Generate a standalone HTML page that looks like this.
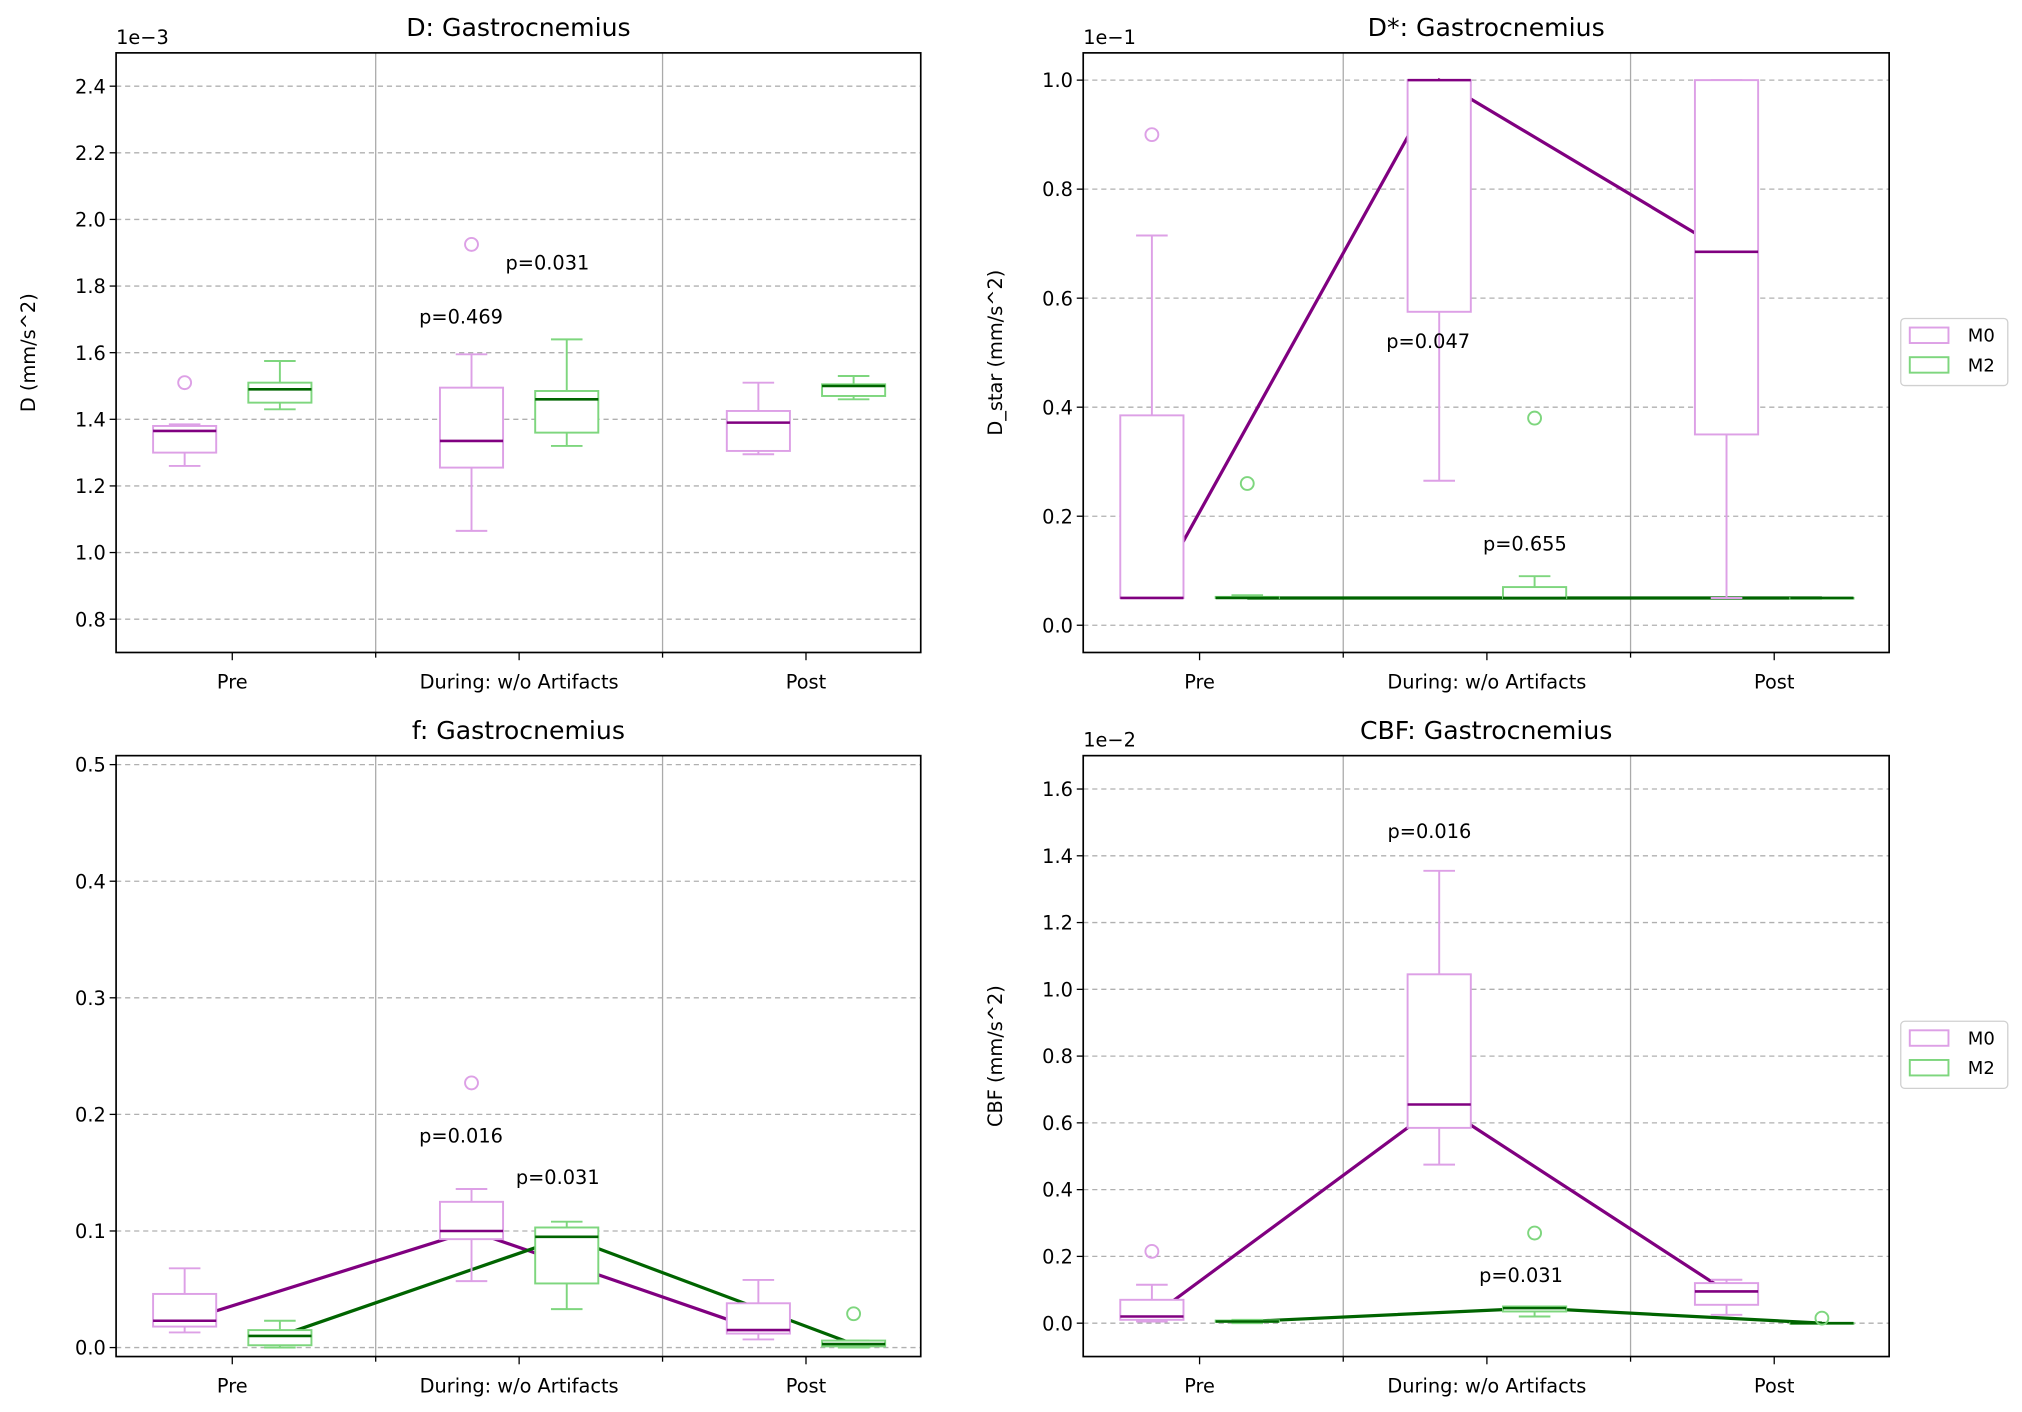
<!DOCTYPE html>
<html><head><meta charset="utf-8"><style>
html,body{margin:0;padding:0;background:#fff;}
svg{display:block;font-family:"DejaVu Sans","Liberation Sans",sans-serif;}
</style></head><body>
<svg id="fig" width="2022" height="1412" viewBox="0 0 1568 1095" xmlns="http://www.w3.org/2000/svg"></svg>
<script>
const categories = ["Pre", "During: w/o Artifacts", "Post"];
// box stats: [low, q1, median, q3, high]
const dM0 = [[1.26,1.30,1.365,1.38,1.385],[1.065,1.255,1.335,1.495,1.595],[1.295,1.305,1.39,1.425,1.51]];
const dM2 = [[1.43,1.45,1.49,1.51,1.575],[1.32,1.36,1.46,1.485,1.64],[1.46,1.47,1.50,1.505,1.53]];
const dOutM0 = [[1.51],[1.925],[]];
const dOutM2 = [[],[],[]];
const dsM0 = [[0.05,0.05,0.05,0.385,0.715],[0.265,0.575,1.0,1.0,1.0],[0.05,0.35,0.685,1.0,1.0]];
const dsM2 = [[0.05,0.05,0.05,0.052,0.055],[0.05,0.05,0.05,0.07,0.09],[0.05,0.05,0.05,0.05,0.05]];
const dsOutM0 = [[0.9],[],[]];
const dsOutM2 = [[0.26],[0.38],[]];
const dsLineM0 = [0.05,1.0,0.685];
const dsLineM2 = [0.05,0.05,0.05];
const fM0 = [[0.013,0.018,0.023,0.046,0.068],[0.057,0.093,0.10,0.125,0.136],[0.007,0.012,0.015,0.038,0.058]];
const fM2 = [[0.0,0.002,0.01,0.015,0.023],[0.033,0.055,0.095,0.103,0.108],[0.0,0.001,0.003,0.006,0.006]];
const fOutM0 = [[],[0.227],[]];
const fOutM2 = [[],[],[0.029]];
const fLineM0 = [0.023,0.10,0.015];
const fLineM2 = [0.01,0.095,0.003];
const cM0 = [[0.005,0.01,0.02,0.07,0.115],[0.475,0.585,0.655,1.045,1.355],[0.025,0.055,0.095,0.12,0.13]];
const cM2 = [[0.0,0.004,0.005,0.008,0.01],[0.02,0.035,0.045,0.05,0.05],[0.0,0.0,0.0,0.0,0.0]];
const cOutM0 = [[0.215],[],[]];
const cOutM2 = [[],[0.27],[0.015]];
const cLineM0 = [0.02,0.655,0.095];
const cLineM2 = [0.005,0.045,0.0];
const dTicks = ["0.8","1.0","1.2","1.4","1.6","1.8","2.0","2.2","2.4"];
const dsTicks = ["0.0","0.2","0.4","0.6","0.8","1.0"];
const fTicks = ["0.0","0.1","0.2","0.3","0.4","0.5"];
const cTicks = ["0.0","0.2","0.4","0.6","0.8","1.0","1.2","1.4","1.6"];

const NS="http://www.w3.org/2000/svg";
const svg=document.getElementById('fig');
function mk(tag,attrs,parent,text){const e=document.createElementNS(NS,tag);for(const k in attrs)e.setAttribute(k,attrs[k]);if(text!==undefined)e.textContent=text;(parent||svg).appendChild(e);return e;}
const M0C="#dda0e6",M2C="#7ed67e",M0D="#800080",M2D="#006400";

function panel(o){
  const g=mk('g',{});
  
  
  const L=o.x0,R=o.x1,T=o.y0,B=o.y1;
  const sy=v=>B-(v-o.ymin)/(o.ymax-o.ymin)*(B-T);
  const catW=(R-L)/2.805, cx0=L+0.405*catW;
  const sx=i=>cx0+i*catW;
  o.ticks.forEach(t=>{const y=sy(parseFloat(t));
    const gl=mk('line',{x1:L,x2:R,y1:y,y2:y,stroke:"#b0b0b0","stroke-width":1,"stroke-dasharray":"4,3"},g);
    
    
    mk('line',{x1:L-5,x2:L,y1:y,y2:y,stroke:"#000","stroke-width":1},g);
    const tl=mk('text',{x:L-8,y:y+5.5,"text-anchor":"end","font-size":15,fill:"#000"},g,t);
    
    
  });
  [0.5,1.5].forEach(s=>{const x=sx(s);
    mk('line',{x1:x,x2:x,y1:T,y2:B,stroke:"#aaaaaa","stroke-width":1},g);
    mk('line',{x1:x,x2:x,y1:B,y2:B+4,stroke:"#000","stroke-width":1},g);});
  categories.forEach((c,i)=>{const x=sx(i);
    mk('line',{x1:x,x2:x,y1:B,y2:B+6,stroke:"#000","stroke-width":1},g);
    const tl=mk('text',{x:x,y:B+28,"text-anchor":"middle","font-size":15,fill:"#000"},g,c);
    
    
  });
  const off=0.166*catW, hw=0.11*catW;
  [[o.lineM0,M0D,-off,'m0-median-line'],[o.lineM2,M2D,off,'m2-median-line']].forEach(([arr,col,dx,nm])=>{
    if(!arr)return;
    const pts=arr.map((v,i)=>(sx(i)+dx)+","+sy(v)).join(" ");
    const pl=mk('polyline',{points:pts,fill:"none",stroke:col,"stroke-width":2.5},g);
    
    
  });
  [[o.m0,o.outM0,M0C,M0D,-off,'m0'],[o.m2,o.outM2,M2C,M2D,off,'m2']].forEach(([arr,outs,col,dcol,dx,nm])=>{
    arr.forEach((s,i)=>{
      const cx=sx(i)+dx;
      const bg=mk('g',{},g);
      
      
      const cw=hw/2;
      mk('line',{x1:cx,x2:cx,y1:sy(s[0]),y2:sy(s[1]),stroke:col,"stroke-width":1.5},bg);
      mk('line',{x1:cx,x2:cx,y1:sy(s[3]),y2:sy(s[4]),stroke:col,"stroke-width":1.5},bg);
      mk('line',{x1:cx-cw,x2:cx+cw,y1:sy(s[0]),y2:sy(s[0]),stroke:col,"stroke-width":1.5},bg);
      mk('line',{x1:cx-cw,x2:cx+cw,y1:sy(s[4]),y2:sy(s[4]),stroke:col,"stroke-width":1.5},bg);
      mk('rect',{x:cx-hw,y:sy(s[3]),width:2*hw,height:Math.max(0.5,sy(s[1])-sy(s[3])),fill:"#fff",stroke:col,"stroke-width":1.5},bg);
      mk('line',{x1:cx-hw,x2:cx+hw,y1:sy(s[2]),y2:sy(s[2]),stroke:dcol,"stroke-width":2},bg);
      (outs[i]||[]).forEach(v=>{
        const c=mk('circle',{cx:cx,cy:sy(v),r:5,fill:"none",stroke:col,"stroke-width":1.5},bg);
        
        
      });
    });
  });
  mk('rect',{x:L,y:T,width:R-L,height:B-T,fill:"none",stroke:"#000","stroke-width":1.3},g);
  o.ann.forEach(a=>{const t=mk('text',{x:a[0],y:a[1],"font-size":15,fill:"#000"},g,a[2]);
    
    });
  const tt=mk('text',{x:(L+R)/2,y:T-13,"text-anchor":"middle","font-size":19.5,fill:"#000"},g,o.title);
  
  
  if(o.offset){const t=mk('text',{x:L,y:T-7,"font-size":15,fill:"#000"},g,o.offset);
    
    }
  if(o.ylabel){const t=mk('text',{x:0,y:0,transform:`translate(${L-63},${(T+B)/2}) rotate(-90)`,"text-anchor":"middle","font-size":15,fill:"#000"},g,o.ylabel);
    
    }
  if(o.legend){const lx=1474,ly=o.legendY;
    const lg=mk('g',{},g);
    
    
    mk('rect',{x:lx,y:ly,width:83,height:52,rx:3,fill:"#fff",stroke:"#d0d0d0","stroke-width":1},lg);
    [["M0",M0C],["M2",M2C]].forEach(([n,c],k)=>{
      const e=mk('g',{},lg);
      
      
      mk('rect',{x:lx+7,y:ly+7+k*23,width:30,height:12,fill:"none",stroke:c,"stroke-width":1.5},e);
      mk('text',{x:lx+52,y:ly+18+k*23,"font-size":14,fill:"#000"},e,n);
    });
  }
}
panel({name:'d-panel',x0:90,x1:714,y0:41,y1:506,ymin:0.7,ymax:2.5,ticks:dTicks,m0:dM0,m2:dM2,outM0:dOutM0,outM2:dOutM2,
  ann:[[325,251,"p=0.469"],[392,209,"p=0.031"]],title:"D: Gastrocnemius",offset:"1e\u22123",ylabel:"D (mm/s^2)"});
panel({name:'dstar-panel',x0:840,x1:1465,y0:41,y1:506,ymin:-0.05,ymax:1.05,ticks:dsTicks,m0:dsM0,m2:dsM2,outM0:dsOutM0,outM2:dsOutM2,
  lineM0:dsLineM0,lineM2:dsLineM2,ann:[[1075,270,"p=0.047"],[1150,427,"p=0.655"]],title:"D*: Gastrocnemius",offset:"1e\u22121",ylabel:"D_star (mm/s^2)",legend:true,legendY:247});
panel({name:'f-panel',x0:90,x1:714,y0:586,y1:1052,ymin:-0.0077,ymax:0.5077,ticks:fTicks,m0:fM0,m2:fM2,outM0:fOutM0,outM2:fOutM2,
  lineM0:fLineM0,lineM2:fLineM2,ann:[[325,886,"p=0.016"],[400,918,"p=0.031"]],title:"f: Gastrocnemius"});
panel({name:'cbf-panel',x0:840,x1:1465,y0:586,y1:1052,ymin:-0.10,ymax:1.70,ticks:cTicks,m0:cM0,m2:cM2,outM0:cOutM0,outM2:cOutM2,
  lineM0:cLineM0,lineM2:cLineM2,ann:[[1076,650,"p=0.016"],[1147,994,"p=0.031"]],title:"CBF: Gastrocnemius",offset:"1e\u22122",ylabel:"CBF (mm/s^2)",legend:true,legendY:792});
</script>
</body></html>
